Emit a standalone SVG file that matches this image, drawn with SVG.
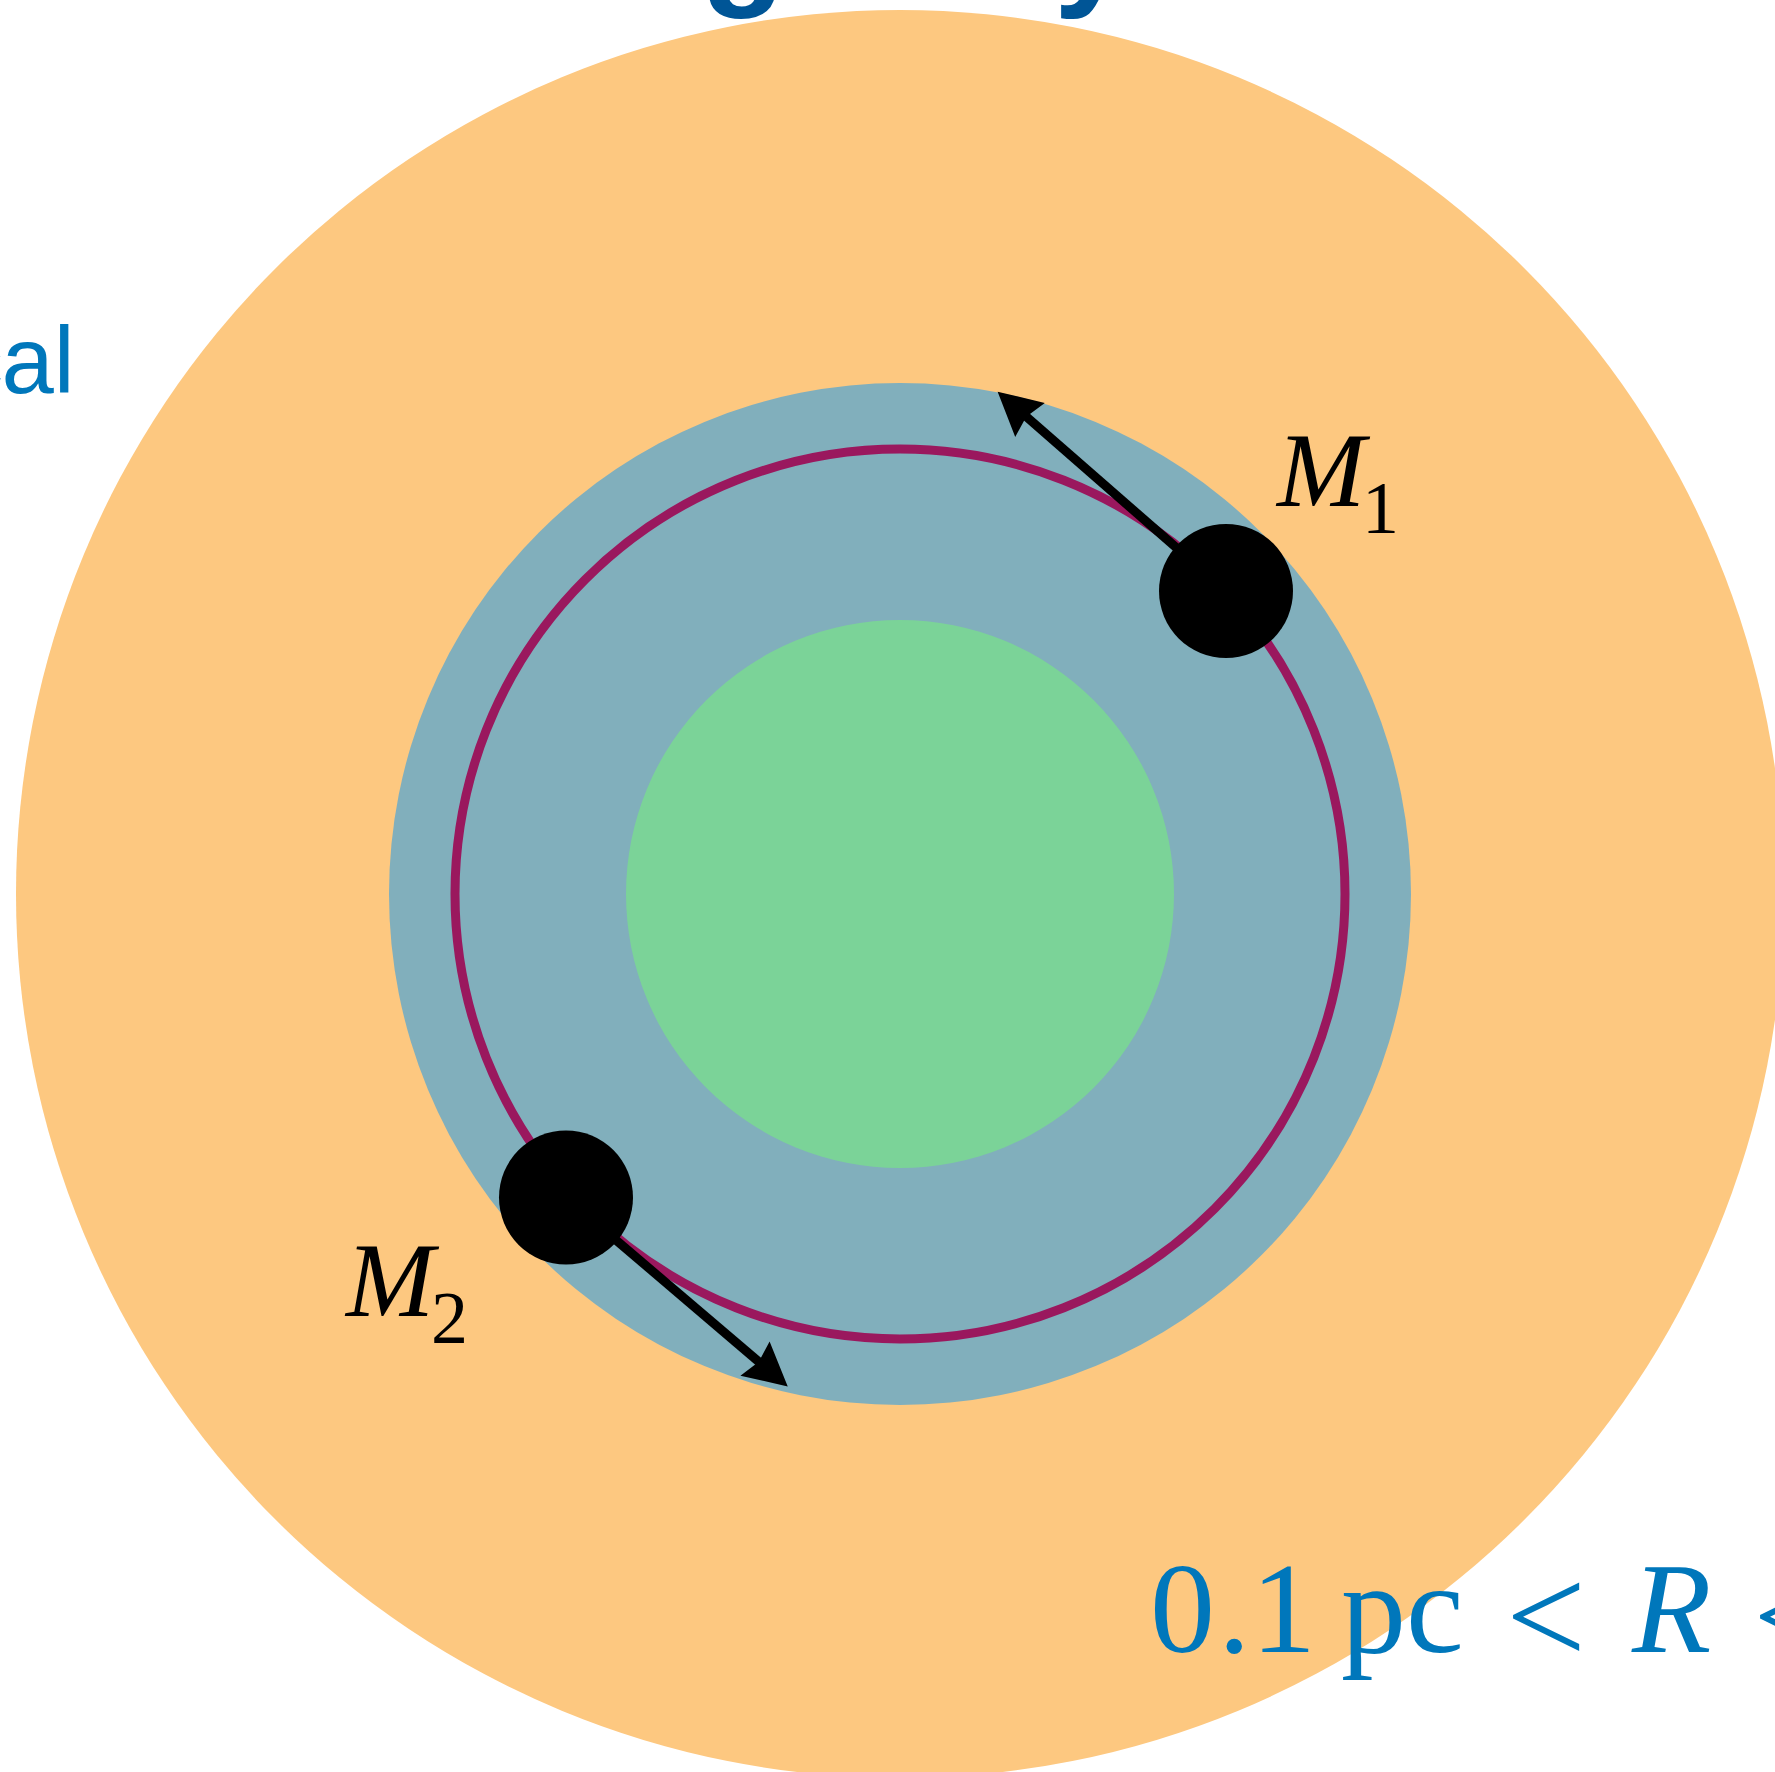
<svg xmlns="http://www.w3.org/2000/svg" width="1775" height="1772" viewBox="0 0 1775 1772">
  <style>
    .title { font-family: "Liberation Sans", Arial, sans-serif; font-weight: bold; font-size: 138px; fill: #005596; }
    .side { font-family: "Liberation Sans", Arial, sans-serif; font-size: 94px; fill: #0077BB; }
    .math { fill: #000000; }
    .mathblue { fill: #0077BB; font-size: 130px; }
    .it { font-style: italic; }
    .ball { fill: #000000; }
    .arrow { stroke: #000000; stroke-width: 9; fill: none; marker-end: url(#head); }
  </style>
  <defs>
    <marker id="head" markerUnits="userSpaceOnUse" viewBox="-1 -25 50 50" markerWidth="50" markerHeight="50" refX="8" refY="0" orient="auto">
      <path d="M0,-22.5 L43,0 L0,22.5 L5,0 Z" fill="#000000"/>
    </marker>
  </defs>
  <rect x="0" y="0" width="1775" height="1772" fill="#FFFFFF"/>

  <g id="title">
    <text class="title" x="701" y="-10">galaxy</text>
  </g>

  <g id="outer-region">
    <circle cx="900" cy="894" r="884" fill="#FDC880"/>
  </g>
  <g id="middle-region">
    <circle cx="900" cy="894" r="511" fill="#81AFBC"/>
  </g>
  <g id="inner-region">
    <circle cx="900" cy="894" r="274" fill="#7BD398"/>
  </g>
  <g id="orbit">
    <circle cx="900" cy="894" r="445" fill="none" stroke="#9A185E" stroke-width="9"/>
  </g>

  <g id="connectors">
    <line class="arrow" x1="1226" y1="591" x2="1024" y2="414.7"/>
    <line class="arrow" x1="566" y1="1197.5" x2="761.1" y2="1363.7"/>
  </g>

  <g id="M1">
    <circle class="ball" cx="1226" cy="591" r="67"/>
    <text class="math it" font-family="Liberation Serif, serif" x="1277" y="506" font-size="106">M</text>
    <text class="math" font-family="Liberation Serif, serif" x="1362" y="533" font-size="74">1</text>
  </g>
  <g id="M2">
    <circle class="ball" cx="566" cy="1197.5" r="67"/>
    <text class="math it" font-family="Liberation Serif, serif" x="346" y="1316" font-size="106">M</text>
    <text class="math" font-family="Liberation Serif, serif" x="431" y="1343" font-size="74">2</text>
  </g>

  <g id="side-label">
    <text class="side" y="393"><tspan x="-44">c</tspan><tspan x="1.4">al</tspan></text>
  </g>

  <g id="radius-label">
    <text class="mathblue" font-family="Liberation Serif, serif" y="1652"><tspan x="1150" y="1652">0</tspan><tspan x="1218" y="1652">.</tspan><tspan x="1251" y="1652">1</tspan><tspan x="1341" y="1652">pc</tspan><tspan x="1506" y="1664" font-size="142">&lt;</tspan><tspan x="1632" y="1652" class="it">R</tspan><tspan x="1753" y="1664" font-size="142">&lt;</tspan></text>
  </g>
</svg>
